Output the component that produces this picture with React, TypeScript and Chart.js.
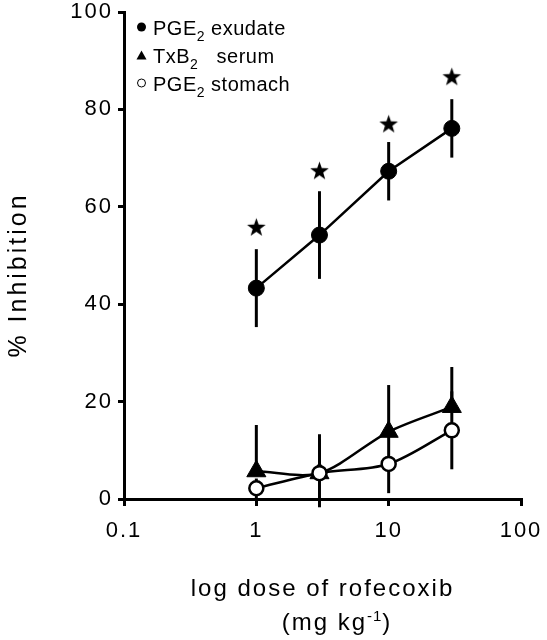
import React, { useEffect, useRef } from "react";
import { Chart, registerables } from "chart.js";

Chart.register(...registerables);

// ---- data ----
const doses = [1, 3, 10, 30];
const exudateMean = [43.3, 54.2, 67.3, 76.1];
const exudateErr = [8, 9, 6, 6];
const serumMean = [5.7, 5.3, 13.8, 18.9];
const serumErr = [9.5, 8, 9.6, 8.2]; // upward bars
const stomachMean = [2.2, 5.3, 7.2, 14.1];
const stomachErr = [2, 7, 6, 8];
const starLevels = [55.8, 67.4, 77.0, 86.7];

const xTicks = [0.1, 1, 10, 100];
const xTickLabels = ["0.1", "1", "10", "100"];
const yTicks = [0, 20, 40, 60, 80, 100];

const legendMain = ["PGE", "TxB", "PGE"];
const legendSub = ["2", "2", "2"];
const legendRest = [" exudate", "   serum", " stomach"];

const xTitle = "log dose of rofecoxib";
const xUnitMain = "(mg kg";
const xUnitSup = "-1";
const xUnitEnd = ")";
const yTitle = "% Inhibition";

const FONT = '"Liberation Sans", Arial, Helvetica, sans-serif';

function makeStar(): HTMLCanvasElement {
  const c = document.createElement("canvas");
  c.width = 21;
  c.height = 21;
  const g = c.getContext("2d")!;
  const cx = 10.5, cy = 11, R = 9.8, r = 3.9;
  g.beginPath();
  for (let i = 0; i < 10; i++) {
    const a = -Math.PI / 2 + (i * Math.PI) / 5;
    const rr = i % 2 === 0 ? R : r;
    const px = cx + Math.cos(a) * rr;
    const py = cy + Math.sin(a) * rr;
    if (i === 0) g.moveTo(px, py);
    else g.lineTo(px, py);
  }
  g.closePath();
  g.fillStyle = "#000";
  g.fill();
  return c;
}

const errorBarPlugin = {
  id: "errorBars",
  beforeDatasetsDraw(chart: any) {
    const { ctx, scales } = chart;
    const xs = scales.x, ys = scales.y;
    const sets = [
      { mean: exudateMean, err: exudateErr, up: true, down: true },
      { mean: serumMean, err: serumErr, up: true, down: false },
      { mean: stomachMean, err: stomachErr, up: true, down: true },
    ];
    ctx.save();
    ctx.strokeStyle = "#000";
    ctx.lineWidth = 3;
    ctx.lineCap = "butt";
    for (const s of sets) {
      doses.forEach((d, i) => {
        const px = xs.getPixelForValue(d);
        const top = s.up ? s.mean[i] + s.err[i] : s.mean[i];
        const bot = s.down ? s.mean[i] - s.err[i] : s.mean[i];
        ctx.beginPath();
        ctx.moveTo(px, ys.getPixelForValue(top));
        ctx.lineTo(px, ys.getPixelForValue(bot));
        ctx.stroke();
      });
    }
    ctx.restore();
  },
};

const textPlugin = {
  id: "texts",
  beforeUpdate(chart: any) {
    (chart.ctx as any).letterSpacing = "2px";
  },
  beforeDraw(chart: any) {
    (chart.ctx as any).letterSpacing = "2px";
  },
  afterDraw(chart: any) {
    const ctx = chart.ctx as any;
    const area = chart.chartArea;
    ctx.save();
    ctx.fillStyle = "#000";
    ctx.textBaseline = "alphabetic";

    // x title
    ctx.font = `24px ${FONT}`;
    ctx.letterSpacing = "2px";
    ctx.textAlign = "center";
    const cx = (area.left + area.right) / 2;
    ctx.fillText(xTitle, cx, 596);

    // units line
    ctx.textAlign = "left";
    const w1 = ctx.measureText(xUnitMain).width;
    ctx.font = `15px ${FONT}`;
    ctx.letterSpacing = "1px";
    const w2 = ctx.measureText(xUnitSup).width;
    ctx.font = `24px ${FONT}`;
    ctx.letterSpacing = "2px";
    const w3 = ctx.measureText(xUnitEnd).width;
    let ux = 337 - (w1 + w2 + w3) / 2;
    ctx.fillText(xUnitMain, ux, 630);
    ux += w1;
    ctx.font = `15px ${FONT}`;
    ctx.letterSpacing = "1px";
    ctx.fillText(xUnitSup, ux, 621);
    ux += w2;
    ctx.font = `24px ${FONT}`;
    ctx.letterSpacing = "2px";
    ctx.fillText(xUnitEnd, ux, 630);

    // y title
    ctx.save();
    ctx.translate(25.5, 275);
    ctx.rotate(-Math.PI / 2);
    ctx.font = `25px ${FONT}`;
    ctx.letterSpacing = "3px";
    ctx.textAlign = "center";
    ctx.fillText(yTitle, 0, 0);
    ctx.restore();

    // legend
    const baselines = [35, 63, 91];
    const textX = 153;
    const mx = 141.5;
    for (let i = 0; i < 3; i++) {
      const by = baselines[i];
      // marker
      ctx.beginPath();
      if (i === 0) {
        ctx.arc(mx, by - 8, 4.5, 0, Math.PI * 2);
        ctx.fillStyle = "#000";
        ctx.fill();
      } else if (i === 1) {
        const cyy = by - 7;
        ctx.moveTo(mx, cyy - 5.5);
        ctx.lineTo(mx + 5, cyy + 3.5);
        ctx.lineTo(mx - 5, cyy + 3.5);
        ctx.closePath();
        ctx.fillStyle = "#000";
        ctx.fill();
      } else {
        ctx.arc(mx, by - 8, 4, 0, Math.PI * 2);
        ctx.fillStyle = "#fff";
        ctx.fill();
        ctx.lineWidth = 1;
        ctx.strokeStyle = "#000";
        ctx.stroke();
      }
      ctx.fillStyle = "#000";
      ctx.textAlign = "left";
      let tx = textX;
      ctx.font = `20px ${FONT}`;
      ctx.letterSpacing = "0.5px";
      ctx.fillText(legendMain[i], tx, by);
      tx += ctx.measureText(legendMain[i]).width;
      ctx.font = `14px ${FONT}`;
      ctx.fillText(legendSub[i], tx, by + 6);
      tx += ctx.measureText(legendSub[i]).width;
      ctx.font = `20px ${FONT}`;
      ctx.fillText(legendRest[i], tx, by);
    }
    ctx.restore();
    ctx.letterSpacing = "2px";
  },
};

export default function App() {
  const ref = useRef<HTMLCanvasElement | null>(null);

  useEffect(() => {
    if (!ref.current) return;
    const star = makeStar();
    const pts = (ys: number[]) => doses.map((d, i) => ({ x: d, y: ys[i] }));
    const tickFont = { family: FONT, size: 22, lineHeight: 1 };

    const chart = new Chart(ref.current, {
      type: "line",
      data: {
        datasets: [
          {
            label: "PGE₂ exudate",
            data: pts(exudateMean),
            borderColor: "#000",
            borderWidth: 2.5,
            backgroundColor: "#000",
            pointBackgroundColor: "#000",
            pointBorderColor: "#000",
            pointBorderWidth: 1,
            pointRadius: 8,
            pointStyle: "circle",
            tension: 0,
            clip: false,
          } as any,
          {
            label: "PGE₂ stomach",
            data: pts(stomachMean),
            borderColor: "#000",
            borderWidth: 2.5,
            pointBackgroundColor: "#fff",
            pointBorderColor: "#000",
            pointBorderWidth: 2.5,
            pointRadius: 7,
            pointStyle: "circle",
            tension: 0.3,
            clip: false,
          },
          {
            label: "TxB₂ serum",
            data: pts(serumMean),
            borderColor: "#000",
            borderWidth: 2.5,
            pointBackgroundColor: "#000",
            pointBorderColor: "#000",
            pointBorderWidth: 1,
            pointRadius: 11,
            pointStyle: "triangle",
            tension: 0.3,
            clip: false,
          },
          {
            label: "significance",
            data: pts(starLevels),
            showLine: false,
            pointStyle: star,
            pointRadius: 10,
            clip: false,
          } as any,
        ],
      },
      options: {
        animation: false,
        responsive: false,
        layout: { padding: { left: 0, top: 11, right: 26, bottom: 0 } },
        plugins: { legend: { display: false }, tooltip: { enabled: false } },
        scales: {
          x: {
            type: "logarithmic",
            min: 0.1,
            max: 100,
            afterBuildTicks: (s: any) => {
              s.ticks = xTicks.map((v) => ({ value: v }));
            },
            afterFit: (s: any) => {
              s.height = 141;
              s.paddingLeft = 0;
              s.paddingRight = 0;
            },
            ticks: {
              autoSkip: false,
              maxRotation: 0,
              minRotation: 0,
              padding: 14,
              color: "#000",
              font: tickFont,
              callback: (v: any) => {
                const i = xTicks.indexOf(Number(v));
                return i >= 0 ? xTickLabels[i] : "";
              },
            },
            grid: {
              drawOnChartArea: false,
              drawTicks: true,
              tickLength: 7,
              lineWidth: 3,
              color: "#000",
            },
            border: { display: true, color: "#000", width: 3 },
          },
          y: {
            type: "linear",
            min: 0,
            max: 100,
            afterBuildTicks: (s: any) => {
              s.ticks = yTicks.map((v) => ({ value: v }));
            },
            afterFit: (s: any) => {
              s.width = 124;
              s.paddingTop = 0;
              s.paddingBottom = 0;
            },
            ticks: {
              padding: 5,
              color: "#000",
              font: tickFont,
              callback: (v: any) => String(v),
            },
            grid: {
              drawOnChartArea: false,
              drawTicks: true,
              tickLength: 6,
              lineWidth: 3,
              color: "#000",
            },
            border: { display: true, color: "#000", width: 3 },
          },
        },
      } as any,
      plugins: [errorBarPlugin, textPlugin],
    });
    return () => chart.destroy();
  }, []);

  return (
    <div style={{ position: "fixed", left: 0, top: 0, width: 547, height: 640, background: "#fff" }}>
      <canvas ref={ref} width={547} height={640} style={{ display: "block" }} />
    </div>
  );
}
